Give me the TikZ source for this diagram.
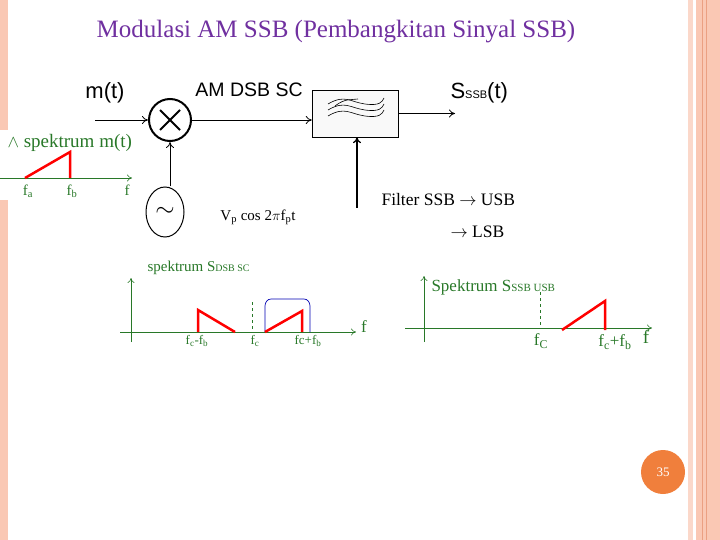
\documentclass[tikz,border=0pt]{standalone}
\usepackage{fontspec}
\setmainfont{Liberation Serif}
\setsansfont{Liberation Sans}
\usetikzlibrary{arrows.meta,positioning,shapes.geometric,calc}
\definecolor{titlepurple}{RGB}{112,48,160}
\definecolor{specgreen}{RGB}{40,120,40}
\definecolor{stripe}{RGB}{250,200,180}
\definecolor{stripedark}{RGB}{235,160,130}
\definecolor{pageorange}{RGB}{240,127,60}
\tikzset{
  sig/.style={-{To[length=6pt,width=8pt]}, line width=0.8pt},
  lbl/.style={font=\sffamily\fontsize{22}{22}\selectfont},
  spec/.style={specgreen, line width=0.6pt},
  specax/.style={spec, -{To[length=5pt,width=7pt]}},
  speclbl/.style={text=specgreen, font=\fontsize{15}{15}\selectfont},
  band/.style={red, line width=2.5pt},
}
\begin{document}
\begin{tikzpicture}[x=1pt,y=-1pt]
      \useasboundingbox (0,0) rectangle (720,540);
      % side stripes
      \fill[stripe] (0,0) rectangle (8,130);
      \fill[stripe] (0,200) rectangle (8,540);
      \fill[stripe!70] (688,0) rectangle (693,540);
      \fill[stripe] (696,0) rectangle (720,540);
      \draw[stripedark, line width=0.8pt] (702,0) -- (702,540);
      \draw[stripedark, line width=0.8pt] (706,0) -- (706,540);

      \node[text=titlepurple, font=\fontsize{25}{25}\selectfont] (title) at (336,32) {Modulasi AM SSB (Pembangkitan Sinyal SSB)};

      % block diagram
      \coordinate (in) at (95,120);
      \node[circle, draw, line width=2pt, minimum size=42pt, inner sep=0pt] (mix) at (170,120) {};
      \draw[line width=2pt] ($(mix)+(-10,-10)$) -- ($(mix)+(10,10)$);
      \draw[line width=2pt] ($(mix)+(-10,10)$) -- ($(mix)+(10,-10)$);
      \node[draw, fill=gray!5, minimum width=86pt, minimum height=47pt, inner sep=0pt] (filt) at (355,113.5) {};
      \coordinate (out) at (455,113.5);
      \node[ellipse, draw, line width=1pt, minimum width=38pt, minimum height=50pt, inner sep=0pt, font=\fontsize{30}{30}\selectfont] (osc) at (165,212) {$\sim$};
      \coordinate (ctl) at (357,208);

      \node[lbl] (mt) at (105,93) {m(t)};
      \node[lbl, font=\sffamily\fontsize{19.5}{19.5}\selectfont] (dsb) at (249,90) {AM DSB SC};
      \node[lbl, anchor=west] (sssb) at (447,93) {S{\fontsize{11}{11}\selectfont SSB}(t)};
      \node[font=\fontsize{15}{15}\selectfont] (vp) at (258,217) {V$_\mathrm{p}$ cos 2$\pi$f$_\mathrm{p}$t};
      \node[font=\fontsize{17.5}{17.5}\selectfont, anchor=west] (usb) at (378,200) {Filter SSB $\rightarrow$ USB};
      \node[font=\fontsize{17.5}{17.5}\selectfont, anchor=west] (lsb) at (447,232) {$\rightarrow$ LSB};

      \draw[sig] (in) -- (mix);
      \draw[sig] (mix) -- (filt.west |- mix);
      \draw[sig] (filt.east |- out) -- (out);
      \draw[sig] (osc.north -| mix) -- (mix);
      \draw[-{To[length=6pt,width=8pt]}, line width=1.3pt] (ctl) -- (ctl |- filt.south);

      % filter symbol
      \foreach \dy in {-6,0,6} {
        \draw[line width=0.6pt] (328,110+\dy) .. controls (345,100+\dy) and (350,108+\dy) .. (365,110+\dy) .. controls (380,112+\dy) and (382,108+\dy) .. (384,104+\dy);
      }
      \draw[line width=0.6pt] (335,106) .. controls (345,98) and (352,100) .. (358,99);

      % spectrum m(t)
      \node[speclbl, font=\fontsize{19}{19}\selectfont, anchor=west] (mspec) at (4,143) {$\wedge$ spektrum m(t)};
      \coordinate (ma) at (0,178);
      \coordinate (mb) at (132,178);
      \draw[specax] (ma) -- (mb);
      \draw[band] (25,178) -- (70,152) -- (70,178);
      \node[speclbl] (fa) at (28,191) {f$_\mathrm{a}$};
      \node[speclbl] (fb) at (72,191) {f$_\mathrm{b}$};
      \node[speclbl] (f1) at (127,190) {f};

      % spectrum DSB SC
      \coordinate (d0) at (120,332);
      \coordinate (d1) at (356,332);
      \coordinate (dv0) at (131,342);
      \coordinate (dv1) at (131,278);
      \draw[specax] (d0) -- (d1);
      \draw[specax] (dv0) -- (dv1);
      \node[speclbl, anchor=west] (dspec) at (144,268) {spektrum S{\fontsize{10}{10}\selectfont DSB SC}};
      \draw[spec, dashed] (252,302) -- (252,332);
      \draw[blue!70!black, line width=0.7pt] (265,332) -- (265,306) to[out=90,in=180] (271,299) -- (304,299) to[out=0,in=90] (310,306) -- (310,332);
      \draw[band] (198,332) -- (198,310) -- (235,332);
      \draw[band] (265,332) -- (302,311) -- (302,332);
      \node[speclbl, font=\fontsize{13}{13}\selectfont] (fcmfb) at (197,341) {f$_\mathrm{c}$-f$_\mathrm{b}$};
      \node[speclbl, font=\fontsize{13}{13}\selectfont] (fc1) at (255,341) {f$_\mathrm{c}$};
      \node[speclbl, font=\fontsize{13}{13}\selectfont] (fcpfb1) at (308,341) {fc+f$_\mathrm{b}$};
      \node[speclbl, font=\fontsize{17}{17}\selectfont] (f2) at (364,327) {f};

      % spectrum SSB USB
      \coordinate (u0) at (405,328);
      \coordinate (u1) at (652,328);
      \coordinate (uv0) at (424,342);
      \coordinate (uv1) at (424,276);
      \draw[specax] (u0) -- (u1);
      \draw[specax] (uv0) -- (uv1);
      \node[speclbl, font=\fontsize{17}{17}\selectfont, anchor=west] (uspec) at (428,287) {Spektrum S{\fontsize{11}{11}\selectfont SSB USB}};
      \draw[spec, dashed] (540,292) -- (540,328);
      \draw[band] (562,330) -- (605,301) -- (605,330);
      \node[speclbl, font=\fontsize{17}{17}\selectfont] (fc2) at (541,341) {f$_\mathrm{C}$};
      \node[speclbl, font=\fontsize{17}{17}\selectfont] (fcpfb2) at (615,342) {f$_\mathrm{c}$+f$_\mathrm{b}$};
      \node[speclbl, font=\fontsize{19}{19}\selectfont] (f3) at (646,337) {f};

      % page number
      \node[circle, fill=pageorange, minimum size=44pt, text=white, font=\fontsize{13}{13}\selectfont] (page) at (663,472) {35};
\end{tikzpicture}
\end{document}
